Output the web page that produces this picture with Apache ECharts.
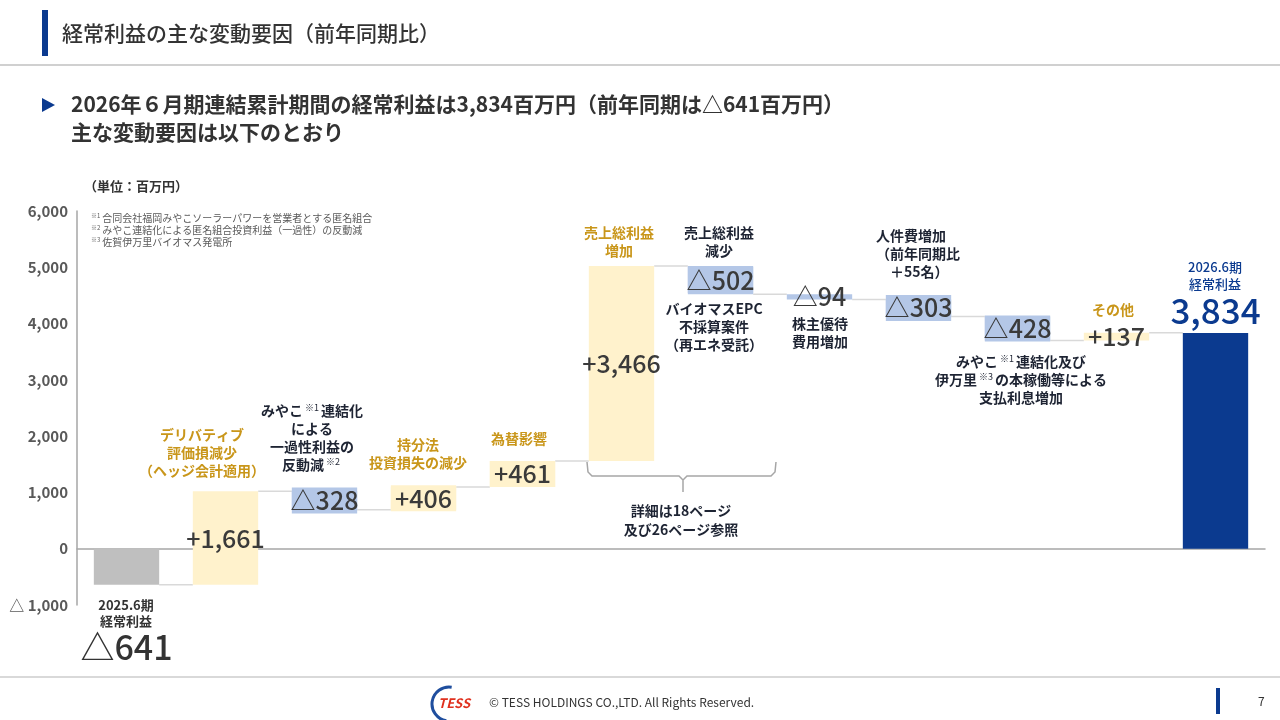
<!DOCTYPE html>
<html>
<head>
<meta charset="utf-8">
<script src="https://cdn.jsdelivr.net/npm/echarts@6/dist/echarts.min.js"></script>
<style>
  html, body { margin: 0; padding: 0; background: #fff; }
  #main { width: 1280px; height: 720px; }
</style>
</head>
<body>
<div id="main"></div>
<script>
// waterfall data (百万円)
const categories = ["2025.6期", "デリバティブ", "みやこ連結化", "持分法", "為替影響", "売上総利益増加",
  "売上総利益減少", "株主優待", "人件費", "支払利息", "その他", "2026.6期"];
const deltas = [-641, 1661, -328, 406, 461, 3466, -502, -94, -303, -428, 137, 3834];
const kinds = ["start", "up", "down", "up", "up", "up", "down", "down", "down", "down", "up", "end"];
const valueLabels = ["△641", "+1,661", "△328", "+406", "+461", "+3,466", "△502", "△94", "△303", "△428", "+137", "3,834"];
const yMin = -1000;
const yMax = 6000;
const yStep = 1000;

const FONT = '"Noto Sans CJK JP", "Noto Sans", sans-serif';
const COLORS = { start: "#BFBFBF", up: "#FFF2CC", down: "#B4C7E7", end: "#0B3A8F" };
const GOLD = "#C9961A";
const DARK = "#1E2433";

// running totals -> bar ranges
const bars = [];
const connectors = [];
let running = 0;
deltas.forEach((d, i) => {
  if (kinds[i] === "start" || kinds[i] === "end") {
    bars.push([i, 0, d]);
    running = d;
  } else {
    bars.push([i, running, running + d]);
    running += d;
  }
  if (i < deltas.length - 1) connectors.push([i, running]);
});

const fmt = (v) => Math.abs(v).toLocaleString("en-US");

const chart = echarts.init(document.getElementById("main"), null, { renderer: "canvas" });

const BAR_RATIO = 0.66;

function sup(t) {
  return "{s|" + t + "}";
}

function note(text, x, y, color, opts = {}) {
  return {
    type: "text",
    z: 20,
    style: Object.assign({
      text: text,
      x: x,
      y: y,
      fill: color,
      font: "bold 14px " + FONT,
      align: "center",
      verticalAlign: "top",
      lineHeight: 18,
      rich: {
        s: { fontSize: 9, fontFamily: FONT, fill: color, padding: [0, 2, 7, 2] },
        n: { fontSize: 14, fontWeight: "bold", fontFamily: FONT, fill: color },
      },
    }, opts),
  };
}

const option = {
  animation: false,
  backgroundColor: "#fff",
  grid: { left: 77, right: 15, top: 211, bottom: 115, containLabel: false },
  xAxis: {
    type: "category",
    data: categories,
    axisLine: { show: true, onZero: true, lineStyle: { color: "#A6A6A6", width: 1.5 } },
    axisTick: { show: false },
    axisLabel: { show: false },
    splitLine: { show: false },
  },
  yAxis: {
    type: "value",
    min: yMin,
    max: yMax,
    interval: yStep,
    axisLine: { show: true, lineStyle: { color: "#A6A6A6", width: 1.5 } },
    axisTick: { show: false },
    splitLine: { show: false },
    axisLabel: {
      margin: 9,
      color: "#595959",
      fontSize: 15,
      fontWeight: "bold",
      fontFamily: FONT,
      formatter: (v) => (v < 0 ? "△ " + fmt(v) : fmt(v)),
    },
  },
  series: [
    {
      name: "connector",
      type: "custom",
      z: 1,
      data: connectors,
      renderItem: (params, api) => {
        const i = api.value(0);
        const lvl = api.value(1);
        const w = api.size([1, 0])[0] * BAR_RATIO;
        const a = api.coord([i, lvl]);
        const b = api.coord([i + 1, lvl]);
        return {
          type: "line",
          shape: { x1: a[0] + w / 2, y1: a[1], x2: b[0] - w / 2, y2: b[1] },
          style: { stroke: "#D9D9D9", lineWidth: 1.5 },
        };
      },
    },
    {
      name: "waterfall",
      type: "custom",
      z: 3,
      data: bars,
      renderItem: (params, api) => {
        const i = api.value(0);
        const lo = api.value(1);
        const hi = api.value(2);
        const p1 = api.coord([i, lo]);
        const p2 = api.coord([i, hi]);
        const w = api.size([1, 0])[0] * BAR_RATIO;
        const top = Math.min(p1[1], p2[1]);
        const h = Math.abs(p1[1] - p2[1]);
        const kind = kinds[i];
        const children = [{
          type: "rect",
          shape: { x: p1[0] - w / 2, y: top, width: w, height: h },
          style: { fill: COLORS[kind] },
        }];
        const txt = { text: valueLabels[i], font: "500 25px " + FONT, fill: "#3A3A3A", align: "center", verticalAlign: "middle" };
        if (kind === "start") {
          Object.assign(txt, { x: p1[0], y: top + h + 62, font: "500 34px " + FONT, fill: "#333" });
        } else if (kind === "end") {
          Object.assign(txt, { x: p1[0], y: top - 22, font: "500 35px " + FONT, fill: COLORS.end });
        } else {
          Object.assign(txt, { x: p1[0], y: top + h / 2 });
          const span = Math.abs(deltas[i]);
          if (span > 150 && span < 1000) {
            Object.assign(txt, { backgroundColor: COLORS[kind], padding: [1, 4, 0, 4], width: w - 8 });
          }
        }
        children.push({ type: "text", z2: 10, style: txt });
        return { type: "group", children: children };
      },
    },
  ],
  graphic: [
    // header
    { type: "rect", shape: { x: 42, y: 10, width: 6, height: 46 }, style: { fill: "#0B3A8F" } },
    { type: "text", style: { text: "経常利益の主な変動要因（前年同期比）", x: 62, y: 33, fill: "#333", font: "500 21px " + FONT, verticalAlign: "middle" } },
    { type: "rect", shape: { x: 0, y: 64, width: 1280, height: 2 }, style: { fill: "#D0D0D0" } },
    { type: "polygon", shape: { points: [[42, 98], [55, 105], [42, 112]] }, style: { fill: "#0B3A8F" } },
    { type: "text", style: { text: "2026年６月期連結累計期間の経常利益は3,834百万円（前年同期は△641百万円）", x: 71, y: 104, fill: "#333", font: "bold 21px " + FONT, verticalAlign: "middle" } },
    { type: "text", style: { text: "主な変動要因は以下のとおり", x: 71, y: 132, fill: "#333", font: "bold 21px " + FONT, verticalAlign: "middle" } },

    // unit & footnotes
    { type: "text", style: { text: "（単位：百万円）", x: 84, y: 186, fill: "#333", font: "bold 13px " + FONT, verticalAlign: "middle" } },
    { type: "text", style: {
      text: "{s|※1}合同会社福岡みやこソーラーパワーを営業者とする匿名組合\n{s|※2}みやこ連結化による匿名組合投資利益（一過性）の反動減\n{s|※3}佐賀伊万里バイオマス発電所",
      x: 91, y: 212, fill: "#595959", font: "10px " + FONT, lineHeight: 12, verticalAlign: "top",
      rich: { s: { fontSize: 6, fontFamily: FONT, fill: "#595959", padding: [0, 2, 4, 0] } },
    } },

    // category notes
    { type: "text", style: { text: "2025.6期\n経常利益", x: 126, y: 597, fill: "#333", font: "bold 13px " + FONT, align: "center", verticalAlign: "top", lineHeight: 16 } },
    note("デリバティブ\n評価損減少\n（ヘッジ会計適用）", 202, 426, GOLD),
    note("{n|みやこ}" + sup("※1") + "{n|連結化}\n{n|による}\n{n|一過性利益の}\n{n|反動減}" + sup("※2"), 312, 402, DARK),
    note("持分法\n投資損失の減少", 418, 436, GOLD),
    note("為替影響", 519, 430, GOLD),
    note("売上総利益\n増加", 619, 224, GOLD),
    note("売上総利益\n減少", 719, 224, DARK),
    note("バイオマスEPC\n不採算案件\n（再エネ受託）", 714, 300, DARK),
    note("株主優待\n費用増加", 820, 315, DARK),
    note("人件費増加\n（前年同期比\n　＋55名）", 876, 227, DARK, { align: "left" }),
    note("{n|みやこ}" + sup("※1") + "{n|連結化及び}\n{n|伊万里}" + sup("※3") + "{n|の本稼働等による}\n{n|支払利息増加}", 1021, 353, DARK),
    note("その他", 1113, 301, GOLD),
    { type: "text", style: { text: "2026.6期\n経常利益", x: 1215, y: 259, fill: COLORS.end, font: "500 13px " + FONT, align: "center", verticalAlign: "top", lineHeight: 17 } },

    // bracket + reference
    { type: "polyline", shape: { points: [[587, 462], [588, 472], [592, 476], [679, 476], [683, 480], [683, 492], [683, 480], [687, 476], [771, 476], [775, 472], [776, 462]] },
      style: { stroke: "#A6A6A6", lineWidth: 1.5, fill: null } },
    note("詳細は18ページ\n及び26ページ参照", 681, 501, DARK, { lineHeight: 19 }),

    // footer
    { type: "rect", shape: { x: 0, y: 676, width: 1280, height: 2 }, style: { fill: "#D9D9D9" } },
    { type: "arc", shape: { cx: 449, cy: 704, r: 17, startAngle: Math.PI * 0.55, endAngle: Math.PI * 1.55 }, style: { stroke: "#1F4E9E", lineWidth: 3, fill: null } },
    { type: "text", style: { text: "TESS", x: 438, y: 703, fill: "#E0301E", font: "italic bold 13px " + FONT, verticalAlign: "middle" } },
    { type: "text", style: { text: "© TESS HOLDINGS CO.,LTD. All Rights Reserved.", x: 489, y: 702, fill: "#333", font: "12px " + FONT, verticalAlign: "middle" } },
    { type: "rect", shape: { x: 1216, y: 688, width: 4, height: 26 }, style: { fill: "#0B3A8F" } },
    { type: "text", style: { text: "7", x: 1258, y: 701, fill: "#333", font: "12px " + FONT, verticalAlign: "middle" } },
  ],
};

chart.setOption(option);
</script>
</body>
</html>
